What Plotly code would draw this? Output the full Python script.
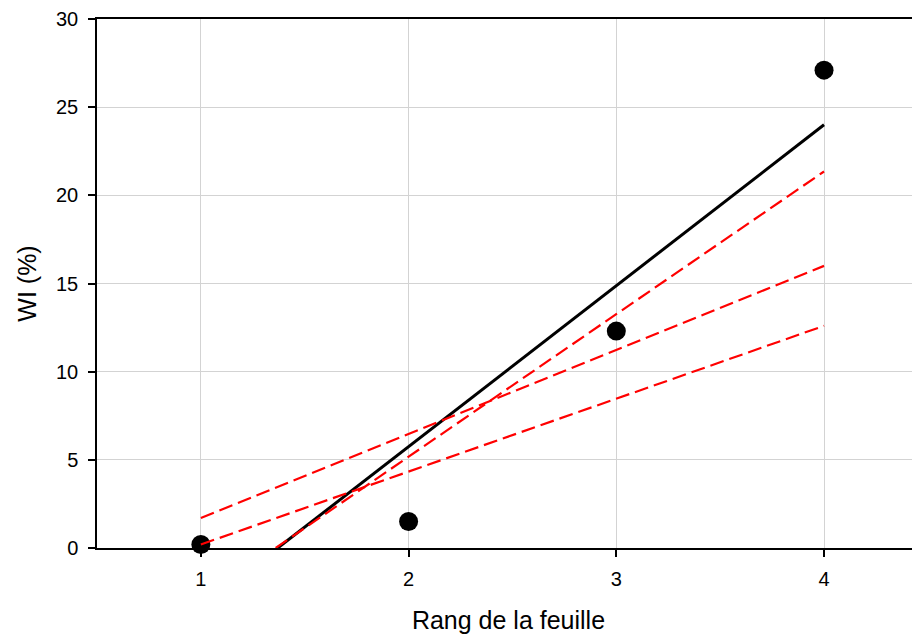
import plotly.graph_objects as go

# Data points
leaf_rank = [1, 2, 3, 4]
wi_pct = [0.2, 1.5, 12.3, 27.1]

# Fitted line (black)
fit_x = [1.37, 4]
fit_y = [0.0, 24.0]

# Red dashed lines
red1_x = [1, 4]
red1_y = [1.7, 16.0]
red2_x = [1, 4]
red2_y = [0.2, 12.6]
red3_x = [1.36, 4]
red3_y = [0.0, 21.35]

x_ticks = [1, 2, 3, 4]
y_ticks = [0, 5, 10, 15, 20, 25, 30]

fig = go.Figure()
fig.add_trace(go.Scatter(x=leaf_rank, y=wi_pct, mode="markers",
                         marker=dict(color="black", size=19), cliponaxis=False,
                         showlegend=False))
fig.add_trace(go.Scatter(x=fit_x, y=fit_y, mode="lines",
                         line=dict(color="black", width=3), showlegend=False))
for xs, ys in [(red1_x, red1_y), (red2_x, red2_y), (red3_x, red3_y)]:
    fig.add_trace(go.Scatter(x=xs, y=ys, mode="lines",
                             line=dict(color="#ff0000", width=2.2, dash="14px,6px"),
                             showlegend=False))

# The page body adds an 8px offset, so the figure is sized to fit the window.
fig.update_layout(
    width=912, height=629,
    margin=dict(l=89, r=0, t=11, b=89, autoexpand=False),
    plot_bgcolor="white", paper_bgcolor="white",
    font=dict(family="Liberation Sans, Arial, sans-serif", color="black", size=20),
    xaxis=dict(range=[0.5, 4.462], tickvals=x_ticks, ticks="outside", ticklen=7,
               tickwidth=1.5, tickcolor="black", showline=True, linecolor="black",
               linewidth=1.5, mirror=True, showgrid=True, gridcolor="#d3d3d3",
               gridwidth=1, zeroline=False, tickfont=dict(size=20), automargin=False,
               ticklabelstandoff=5,
               title=dict(text="Rang de la feuille", font=dict(size=25), standoff=23)),
    yaxis=dict(range=[0, 30], tickvals=y_ticks, ticks="outside", ticklen=7,
               tickwidth=1.5, tickcolor="black", showline=True, linecolor="black",
               linewidth=1.5, showgrid=True, gridcolor="#d3d3d3", gridwidth=1,
               zeroline=False, tickfont=dict(size=20), automargin=False,
               ticklabelstandoff=6,
               title=dict(text="WI (%)", font=dict(size=25), standoff=12)),
)

fig.write_html("out.html")
